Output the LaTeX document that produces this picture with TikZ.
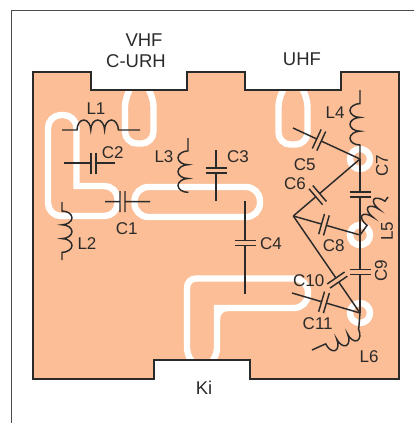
\documentclass[tikz,border=0pt]{standalone}
\usepackage{fontspec}
\setmainfont{Liberation Sans}
\usetikzlibrary{calc}
\usetikzlibrary{decorations.pathmorphing}
\definecolor{boardcol}{HTML}{FBBE96}
\definecolor{inkcol}{HTML}{2B2A2A}
\tikzset{
    wire/.style = {draw = inkcol, line width = 1.45pt},
    trace/.style = {draw = white, line width = 6.4pt},
    label/.style = {text = inkcol, font = \fontsize{17}{17}\selectfont, inner sep = 0pt},
    bandlabel/.style = {label, font = \fontsize{18.5}{18.5}\selectfont},
    coilwire/.style n args = {3}{
        wire, decorate,
        decoration = {bumps, segment length = #1, amplitude = 10pt,
            pre = lineto, pre length = #2, post = lineto, post length = #3}
    }
}
\newcommand{\boardoutline}{(33, 72) -- (91, 72) -- (91, 90) -- (187, 90) -- (187, 72)
    -- (245, 72) -- (245, 90) -- (341, 90) -- (341, 72) -- (399, 72) -- (399, 379)
    -- (250, 379) -- (250, 360) -- (154, 360) -- (154, 379) -- (33, 379) -- cycle}
\newcommand{\capac}[3]{
    \coordinate (mid) at ($(#1)!#3!(#2)$);
    \coordinate (pa) at ($(mid)!2.5pt!(#1)$);
    \coordinate (pb) at ($(mid)!2.5pt!(#2)$);
    \draw[wire] (#1) -- (pa) ($(pa)!10.5pt!90:(#1)$) -- ($(pa)!10.5pt!-90:(#1)$);
    \draw[wire] (#2) -- (pb) ($(pb)!10.5pt!90:(#2)$) -- ($(pb)!10.5pt!-90:(#2)$);
}

\begin{document}
\begin{tikzpicture}[x = 1pt, y = -1pt]
    \useasboundingbox (0, 0) rectangle (414, 423);
    \draw[draw = black!70, line width = 1pt] (11, 423) -- (11, 10.5) -- (414, 10.5);
    \fill[boardcol] \boardoutline;

    \draw[trace, rounded corners = 12pt] (131, 87) -- (125, 95) -- (125, 143.5) -- (153.5, 143.5) -- (153.5, 95) -- (147.5, 87);
    \draw[trace, rounded corners = 12pt] (284.5, 87) -- (278.5, 95) -- (278.5, 144.5) -- (307.5, 144.5) -- (307.5, 95) -- (301.5, 87);
    \draw[trace, rounded corners = 13pt, line cap = rect] (76.5, 186) -- (76.5, 115) -- (48, 115) -- (48, 216) -- (117.5, 216) -- (117.5, 186) -- (76.5, 186);
    \draw[trace, rounded corners = 14pt] (134.5, 187) rectangle (260, 217);
    \draw[trace] (193, 363) [rounded corners = 6pt] -- (187, 354) [rounded corners = 9pt] -- (187, 278.5) [rounded corners = 14pt] -- (308, 278.5) -- (308, 308) [sharp corners] -- (217, 308) [rounded corners = 6pt] -- (217, 354) -- (211, 363);
    \fill[white] (220, 311) -- (229, 311) .. controls (223, 311) and (220, 314) .. (220, 320) -- cycle;
    \draw[trace] (360, 159) circle (10);
    \draw[trace] (360, 235) circle (10);
    \draw[trace] (360, 313) circle (10);

    \draw[draw = inkcol, line width = 2pt] \boardoutline;

    \coordinate (n7) at (360, 159);
    \coordinate (n8) at (360, 235);
    \coordinate (n9) at (360, 313);
    \coordinate (jn) at (293.3, 216);
    \coordinate (c1a) at (105, 201.7);
    \coordinate (c1b) at (150, 201.7);
    \coordinate (c2a) at (64, 163);
    \coordinate (c2b) at (114.7, 163);
    \coordinate (c3a) at (216, 150);
    \coordinate (c3b) at (216, 200.7);
    \coordinate (c4a) at (245, 201);
    \coordinate (c4b) at (245, 293.7);
    \coordinate (c5a) at (293, 128);
    \coordinate (c11a) at (292, 293);
    \coordinate (l1a) at (62, 130);
    \coordinate (l1b) at (140, 130);
    \coordinate (l2a) at (62, 202);
    \coordinate (l2b) at (62, 260);
    \coordinate (l3a) at (188, 192.5);
    \coordinate (l3b) at (188, 138);
    \coordinate (l4b) at (360, 90);
    \coordinate (l5b) at (388, 197);
    \coordinate (l6a) at (358.7, 329);
    \coordinate (l6b) at (312, 350);

    \capac{c1a}{c1b}{0.389}
    \capac{c2a}{c2b}{0.582}
    \capac{c3a}{c3b}{0.404}
    \capac{c4a}{c4b}{0.451}
    \capac{c5a}{n7}{0.388}
    \capac{jn}{n7}{0.366}
    \capac{n7}{n8}{0.465}
    \capac{jn}{n8}{0.46}
    \capac{n8}{n9}{0.472}
    \capac{jn}{n9}{0.66}
    \capac{c11a}{n9}{0.47}

    \draw[coilwire = {27.6pt}{15pt}{20pt}] (l1a) -- (l1b);
    \draw[coilwire = {27.6pt}{9pt}{5.5pt}] (l2a) -- (l2b);
    \draw[coilwire = {27.6pt}{0.2pt}{10.5pt}] (l3a) -- (l3b);
    \draw[coilwire = {27.6pt}{14pt}{12pt}] (n7) -- (l4b);
    \draw[coilwire = {20pt}{12pt}{3.5pt}] (n8) -- (l5b);
    \draw[wire] (n9) -- (l6a);
    \draw[coilwire = {24pt}{0.2pt}{14pt}] (l6a) -- (l6b);

    \node[bandlabel] (vhf) at (144, 40) {VHF};
    \node[bandlabel] (curh) at (136, 60.7) {C-URH};
    \node[bandlabel] (uhf) at (302, 59) {UHF};
    \node[bandlabel] (ki) at (204, 388) {Ki};
    \node[label] (l1) at (96, 109) {L1};
    \node[label] (l2) at (87, 243.7) {L2};
    \node[label] (l3) at (164, 157) {L3};
    \node[label] (l4) at (335, 113) {L4};
    \node[label, rotate = 90] (l5) at (387, 231) {L5};
    \node[label] (l6) at (369, 357) {L6};
    \node[label] (c1) at (126.7, 228.7) {C1};
    \node[label] (c2) at (112.7, 152.7) {C2};
    \node[label] (c3) at (238, 156.7) {C3};
    \node[label] (c4) at (271, 243.7) {C4};
    \node[label] (c5) at (304.7, 165) {C5};
    \node[label] (c6) at (295, 184) {C6};
    \node[label, rotate = 90] (c7) at (382, 166) {C7};
    \node[label] (c8) at (333.7, 246) {C8};
    \node[label, rotate = 90] (c9) at (381, 271) {C9};
    \node[label] (c10) at (308.7, 281) {C10};
    \node[label] (c11) at (317.7, 323.7) {C11};
\end{tikzpicture}
\end{document}
